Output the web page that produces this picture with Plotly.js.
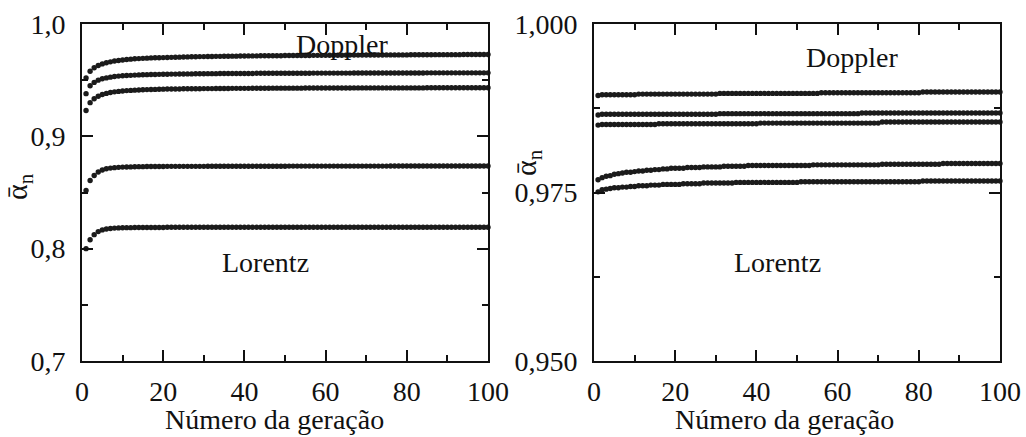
<!DOCTYPE html>
<html>
<head>
<meta charset="utf-8">
<script src="https://cdn.plot.ly/plotly-3.0.1.min.js"></script>
<style>html,body{margin:0;padding:0;background:#fff;}#chart{width:1026px;height:437px;}</style>
</head>
<body>
<div id="chart"></div>
<script>
// Generation number (x) shared by every series
var generation = [1,2,3,4,5,6,7,8,9,10,11,12,13,14,15,16,17,18,19,20,21,22,23,24,25,26,27,28,29,30,31,32,33,34,35,36,37,38,39,40,41,42,43,44,45,46,47,48,49,50,51,52,53,54,55,56,57,58,59,60,61,62,63,64,65,66,67,68,69,70,71,72,73,74,75,76,77,78,79,80,81,82,83,84,85,86,87,88,89,90,91,92,93,94,95,96,97,98,99,100];

// Left panel series (top = Doppler ... bottom = Lorentz)
var left1 = [0.952,0.958,0.961,0.963,0.9645,0.9655,0.9663,0.967,0.9675,0.968,
0.9684,0.9687,0.969,0.9692,0.9694,0.9696,0.9698,0.9699,0.97,0.9701,
0.9702,0.9703,0.9704,0.9705,0.9706,0.9707,0.9708,0.9709,0.971,0.971,
0.9711,0.9711,0.9712,0.9712,0.9713,0.9713,0.9714,0.9714,0.9715,0.9715,
0.9716,0.9716,0.9716,0.9717,0.9717,0.9717,0.9718,0.9718,0.9718,0.9719,
0.9719,0.9719,0.972,0.972,0.972,0.972,0.9721,0.9721,0.9721,0.9721,
0.9722,0.9722,0.9722,0.9722,0.9723,0.9723,0.9723,0.9723,0.9723,0.9724,
0.9724,0.9724,0.9724,0.9724,0.9725,0.9725,0.9725,0.9725,0.9725,0.9725,
0.9726,0.9726,0.9726,0.9726,0.9726,0.9726,0.9727,0.9727,0.9727,0.9727,
0.9727,0.9727,0.9727,0.9728,0.9728,0.9728,0.9728,0.9728,0.9728,0.9728];

var left2 = [0.938,0.945,0.948,0.95,0.9512,0.952,0.9527,0.9532,0.9536,0.9539,
0.9541,0.9543,0.9545,0.9547,0.9548,0.9549,0.955,0.9551,0.9552,0.9553,
0.9553,0.9554,0.9554,0.9555,0.9555,0.9556,0.9556,0.9557,0.9557,0.9557,
0.9558,0.9558,0.9558,0.9559,0.9559,0.9559,0.9559,0.956,0.956,0.956,
0.956,0.956,0.9561,0.9561,0.9561,0.9561,0.9561,0.9561,0.9562,0.9562,
0.9562,0.9562,0.9562,0.9562,0.9562,0.9562,0.9563,0.9563,0.9563,0.9563,
0.9563,0.9563,0.9563,0.9563,0.9563,0.9563,0.9564,0.9564,0.9564,0.9564,
0.9564,0.9564,0.9564,0.9564,0.9564,0.9564,0.9564,0.9564,0.9564,0.9564,
0.9564,0.9564,0.9564,0.9564,0.9565,0.9565,0.9565,0.9565,0.9565,0.9565,
0.9565,0.9565,0.9565,0.9565,0.9565,0.9565,0.9565,0.9565,0.9565,0.9565];

var left3 = [0.923,0.93,0.9335,0.9357,0.9372,0.9382,0.939,0.9396,0.94,0.9404,
0.9407,0.9409,0.9411,0.9413,0.9415,0.9416,0.9417,0.9418,0.9419,0.942,
0.9421,0.9421,0.9422,0.9422,0.9423,0.9423,0.9424,0.9424,0.9424,0.9425,
0.9425,0.9425,0.9426,0.9426,0.9426,0.9426,0.9427,0.9427,0.9427,0.9427,
0.9427,0.9428,0.9428,0.9428,0.9428,0.9428,0.9429,0.9429,0.9429,0.9429,
0.9429,0.9429,0.9429,0.9429,0.943,0.943,0.943,0.943,0.943,0.943,
0.943,0.943,0.943,0.943,0.943,0.943,0.9431,0.9431,0.9431,0.9431,
0.9431,0.9431,0.9431,0.9431,0.9431,0.9431,0.9431,0.9431,0.9431,0.9431,
0.9431,0.9431,0.9431,0.9431,0.9432,0.9432,0.9432,0.9432,0.9432,0.9432,
0.9432,0.9432,0.9432,0.9432,0.9432,0.9432,0.9432,0.9432,0.9432,0.9432];

var left4 = [0.8518,0.8607,0.8652,0.8682,0.87,0.8711,0.8717,0.8721,0.8724,0.8726,
0.8727,0.8728,0.8729,0.873,0.873,0.8731,0.8731,0.8732,0.8732,0.8732,
0.8733,0.8733,0.8733,0.8733,0.8733,0.8733,0.8733,0.8733,0.8733,0.8733,
0.8734,0.8734,0.8734,0.8734,0.8734,0.8734,0.8734,0.8734,0.8734,0.8734,
0.8734,0.8734,0.8734,0.8734,0.8734,0.8734,0.8734,0.8734,0.8734,0.8734,
0.8735,0.8735,0.8735,0.8735,0.8735,0.8735,0.8735,0.8735,0.8735,0.8735,
0.8735,0.8735,0.8735,0.8735,0.8735,0.8735,0.8735,0.8735,0.8735,0.8735,
0.8735,0.8735,0.8735,0.8735,0.8735,0.8736,0.8736,0.8736,0.8736,0.8736,
0.8736,0.8736,0.8736,0.8736,0.8736,0.8736,0.8736,0.8736,0.8736,0.8736,
0.8736,0.8736,0.8736,0.8736,0.8736,0.8736,0.8736,0.8736,0.8736,0.8736];

var left5 = [0.8,0.808,0.8125,0.8152,0.8167,0.8175,0.818,0.8183,0.8185,0.8186,
0.8187,0.8187,0.8188,0.8188,0.8188,0.8189,0.8189,0.8189,0.8189,0.8189,
0.819,0.819,0.819,0.819,0.819,0.819,0.819,0.819,0.819,0.819,
0.819,0.819,0.819,0.819,0.819,0.819,0.819,0.819,0.819,0.819,
0.819,0.819,0.819,0.819,0.819,0.819,0.819,0.819,0.819,0.819,
0.819,0.819,0.819,0.819,0.819,0.819,0.819,0.819,0.819,0.819,
0.819,0.819,0.819,0.819,0.819,0.819,0.819,0.819,0.819,0.819,
0.819,0.819,0.819,0.819,0.819,0.819,0.819,0.819,0.819,0.819,
0.819,0.819,0.819,0.819,0.819,0.819,0.819,0.819,0.819,0.819,
0.819,0.819,0.819,0.819,0.819,0.819,0.819,0.819,0.819,0.819];

// Right panel series
var right1 = [0.9894,0.9895,0.9895,0.9895,0.9895,0.9895,0.9895,0.9895,0.9895,0.9895,
0.9896,0.9896,0.9896,0.9896,0.9896,0.9896,0.9896,0.9896,0.9896,0.9896,
0.9896,0.9896,0.9896,0.9896,0.9896,0.9896,0.9896,0.9896,0.9896,0.9896,
0.9897,0.9897,0.9897,0.9897,0.9897,0.9897,0.9897,0.9897,0.9897,0.9897,
0.9897,0.9897,0.9897,0.9897,0.9897,0.9897,0.9897,0.9897,0.9897,0.9897,
0.9897,0.9897,0.9897,0.9897,0.9897,0.9898,0.9898,0.9898,0.9898,0.9898,
0.9898,0.9898,0.9898,0.9898,0.9898,0.9898,0.9898,0.9898,0.9898,0.9898,
0.9898,0.9898,0.9898,0.9898,0.9898,0.9898,0.9898,0.9898,0.9898,0.9898,
0.9899,0.9899,0.9899,0.9899,0.9899,0.9899,0.9899,0.9899,0.9899,0.9899,
0.9899,0.9899,0.9899,0.9899,0.9899,0.9899,0.9899,0.9899,0.9899,0.9899];

var right2 = [0.9865,0.9866,0.9866,0.9866,0.9866,0.9866,0.9866,0.9866,0.9866,0.9866,
0.9866,0.9866,0.9866,0.9866,0.9866,0.9866,0.9866,0.9866,0.9866,0.9866,
0.9866,0.9866,0.9866,0.9866,0.9866,0.9866,0.9866,0.9866,0.9866,0.9866,
0.9867,0.9867,0.9867,0.9867,0.9867,0.9867,0.9867,0.9867,0.9867,0.9867,
0.9867,0.9867,0.9867,0.9867,0.9867,0.9867,0.9867,0.9867,0.9867,0.9867,
0.9867,0.9867,0.9867,0.9867,0.9867,0.9867,0.9867,0.9867,0.9867,0.9867,
0.9867,0.9867,0.9867,0.9867,0.9867,0.9868,0.9868,0.9868,0.9868,0.9868,
0.9868,0.9868,0.9868,0.9868,0.9868,0.9868,0.9868,0.9868,0.9868,0.9868,
0.9868,0.9868,0.9868,0.9868,0.9868,0.9868,0.9868,0.9868,0.9868,0.9868,
0.9868,0.9868,0.9868,0.9868,0.9868,0.9868,0.9868,0.9868,0.9868,0.9868];

var right3 = [0.985,0.9851,0.9851,0.9851,0.9851,0.9851,0.9851,0.9851,0.9851,0.9851,
0.9851,0.9851,0.9851,0.9851,0.9851,0.9852,0.9852,0.9852,0.9852,0.9852,
0.9852,0.9852,0.9852,0.9852,0.9852,0.9852,0.9852,0.9852,0.9852,0.9852,
0.9852,0.9852,0.9852,0.9852,0.9852,0.9852,0.9852,0.9852,0.9852,0.9852,
0.9853,0.9853,0.9853,0.9853,0.9853,0.9853,0.9853,0.9853,0.9853,0.9853,
0.9853,0.9853,0.9853,0.9853,0.9853,0.9853,0.9853,0.9853,0.9853,0.9853,
0.9853,0.9853,0.9853,0.9853,0.9853,0.9853,0.9853,0.9853,0.9853,0.9853,
0.98545,0.98545,0.98545,0.98545,0.98545,0.98545,0.98545,0.98545,0.98545,0.98545,
0.98545,0.98545,0.98545,0.98545,0.98545,0.98545,0.98545,0.98545,0.98545,0.98545,
0.98545,0.98545,0.98545,0.98545,0.98545,0.98545,0.98545,0.98545,0.98545,0.98545];

var right4 = [0.9769,0.9772,0.9774,0.9775,0.9777,0.9778,0.9779,0.978,0.978,0.9781,
0.9782,0.9782,0.9783,0.9783,0.9784,0.9784,0.9785,0.9785,0.9786,0.9786,
0.9786,0.9786,0.9787,0.9787,0.9787,0.9787,0.9788,0.9788,0.9788,0.9788,
0.9788,0.9789,0.9789,0.9789,0.9789,0.9789,0.9789,0.979,0.979,0.979,
0.979,0.979,0.979,0.979,0.979,0.979,0.979,0.979,0.979,0.979,
0.979,0.979,0.979,0.9791,0.9791,0.9791,0.9791,0.9791,0.9791,0.9791,
0.9791,0.9791,0.9791,0.9791,0.9791,0.9791,0.9791,0.9791,0.9791,0.9791,
0.9792,0.9792,0.9792,0.9792,0.9792,0.9792,0.9792,0.9792,0.9792,0.9792,
0.9792,0.9792,0.9792,0.9792,0.9792,0.9793,0.9793,0.9793,0.9793,0.9793,
0.9793,0.9793,0.9793,0.9793,0.9793,0.9793,0.9793,0.9793,0.9793,0.9793];

var right5 = [0.9751,0.9754,0.9755,0.9756,0.9757,0.9757,0.9758,0.9758,0.9759,0.9759,
0.976,0.976,0.976,0.9761,0.9761,0.9761,0.9762,0.9762,0.9762,0.9762,
0.9762,0.9763,0.9763,0.9763,0.9763,0.9763,0.9764,0.9764,0.9764,0.9764,
0.9764,0.9764,0.9764,0.9764,0.9765,0.9765,0.9765,0.9765,0.9765,0.9765,
0.9765,0.9765,0.9765,0.9765,0.9765,0.9765,0.9765,0.9765,0.9765,0.9765,
0.9766,0.9766,0.9766,0.9766,0.9766,0.9766,0.9766,0.9766,0.9766,0.9766,
0.9766,0.9766,0.9766,0.9766,0.9766,0.9766,0.9766,0.9766,0.9766,0.9766,
0.9766,0.9766,0.9766,0.9766,0.9766,0.9766,0.9766,0.9766,0.9766,0.9766,
0.9767,0.9767,0.9767,0.9767,0.9767,0.9767,0.9767,0.9767,0.9767,0.9767,
0.9767,0.9767,0.9767,0.9767,0.9767,0.9767,0.9767,0.9767,0.9767,0.9767];

var xTitle = 'Número da geração';
var yTitle = 'α\u0304<sub>n</sub>';
var labelTop = 'Doppler';
var labelBottom = 'Lorentz';

var FONT = '"Liberation Serif", "Times New Roman", serif';
var DOT = '#1b1b1b';

function series(y, xa, ya) {
  return {x: generation, y: y, xaxis: xa, yaxis: ya, type: 'scatter', mode: 'markers',
    marker: {size: 5.4, color: DOT}, cliponaxis: false, hoverinfo: 'skip'};
}

var data = [
  series(left1,'x','y'), series(left2,'x','y'), series(left3,'x','y'), series(left4,'x','y'), series(left5,'x','y'),
  series(right1,'x2','y2'), series(right2,'x2','y2'), series(right3,'x2','y2'), series(right4,'x2','y2'), series(right5,'x2','y2')
];

function xax(domain, anchor) {
  return {domain: domain, anchor: anchor, range: [0, 100], dtick: 20, tick0: 0,
    ticks: 'inside', ticklen: 11, tickwidth: 2, tickcolor: '#111',
    minor: {dtick: 10, ticks: 'inside', ticklen: 6, tickwidth: 2, tickcolor: '#111'},
    showline: true, linewidth: 2, linecolor: '#111', mirror: 'ticks',
    showgrid: false, zeroline: false, ticklabelstandoff: 4,
    tickfont: {family: FONT, size: 28, color: '#111'}};
}
function yax(domain, anchor, range, dtick, minor, fmt) {
  return {domain: domain, anchor: anchor, range: range, dtick: dtick, tick0: range[0],
    tickformat: fmt,
    ticks: 'inside', ticklen: 11, tickwidth: 2, tickcolor: '#111',
    minor: {dtick: minor, ticks: 'inside', ticklen: 6, tickwidth: 2, tickcolor: '#111'},
    showline: true, linewidth: 2, linecolor: '#111', mirror: 'ticks',
    showgrid: false, zeroline: false, ticklabelstandoff: 9,
    tickfont: {family: FONT, size: 28, color: '#111'}};
}

var W = 1026, H = 437;
function px(x) { return x / W; }
function py(y) { return 1 - y / H; }

var ydom = [py(361), py(24)];
var layout = {
  width: W, height: H,
  margin: {l: 0, r: 0, t: 0, b: 0},
  paper_bgcolor: '#fff', plot_bgcolor: '#fff',
  showlegend: false,
  separators: ',.',
  font: {family: FONT, color: '#111'},
  xaxis: xax([px(82), px(488)], 'y'),
  yaxis: yax(ydom, 'x', [0.7, 1.0], 0.1, 0.05, '.1f'),
  xaxis2: xax([px(594), px(1000)], 'y2'),
  yaxis2: yax(ydom, 'x2', [0.95, 1.0], 0.025, 0.0125, '.3f'),
  annotations: [
    {text: xTitle, xref: 'paper', yref: 'paper', x: px(274), y: py(419), xanchor: 'center', yanchor: 'middle', showarrow: false, font: {family: FONT, size: 28, color: '#111'}},
    {text: xTitle, xref: 'paper', yref: 'paper', x: px(784), y: py(419), xanchor: 'center', yanchor: 'middle', showarrow: false, font: {family: FONT, size: 28, color: '#111'}},
    {text: yTitle, xref: 'paper', yref: 'paper', x: px(19), y: py(187), xanchor: 'center', yanchor: 'middle', textangle: -90, showarrow: false, font: {family: FONT, size: 30, color: '#111'}},
    {text: yTitle, xref: 'paper', yref: 'paper', x: px(528), y: py(163), xanchor: 'center', yanchor: 'middle', textangle: -90, showarrow: false, font: {family: FONT, size: 30, color: '#111'}},
    {text: labelTop, xref: 'paper', yref: 'paper', x: px(342), y: py(44), xanchor: 'center', yanchor: 'middle', showarrow: false, font: {family: FONT, size: 28, color: '#111'}},
    {text: labelTop, xref: 'paper', yref: 'paper', x: px(852), y: py(57), xanchor: 'center', yanchor: 'middle', showarrow: false, font: {family: FONT, size: 28, color: '#111'}},
    {text: labelBottom, xref: 'paper', yref: 'paper', x: px(265), y: py(262), xanchor: 'center', yanchor: 'middle', showarrow: false, font: {family: FONT, size: 28, color: '#111'}},
    {text: labelBottom, xref: 'paper', yref: 'paper', x: px(777), y: py(262), xanchor: 'center', yanchor: 'middle', showarrow: false, font: {family: FONT, size: 28, color: '#111'}}
  ]
};

Plotly.newPlot('chart', data, layout, {staticPlot: true, displayModeBar: false});
</script>
</body>
</html>
